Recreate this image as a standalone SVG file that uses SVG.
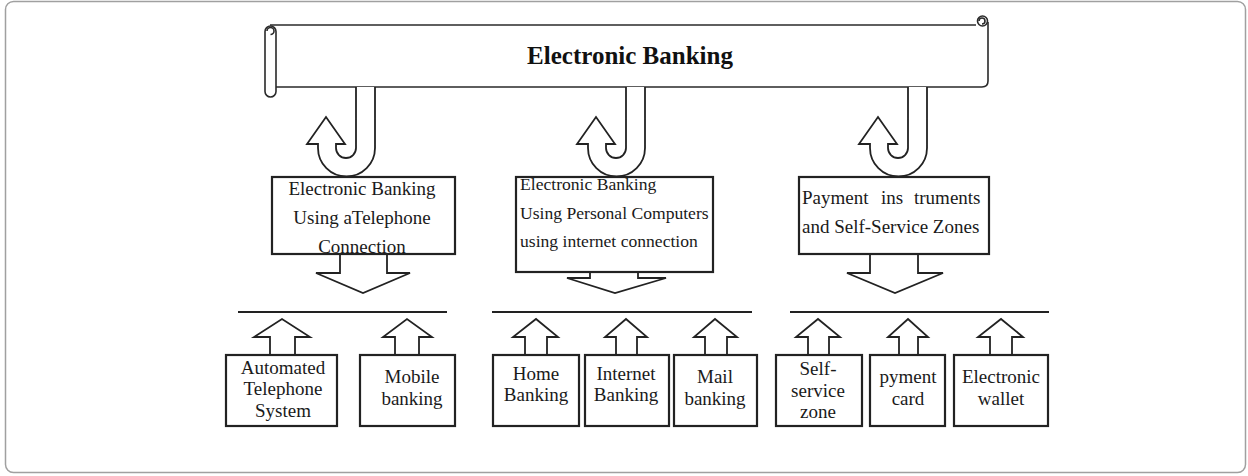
<svg xmlns="http://www.w3.org/2000/svg" width="1248" height="476" viewBox="0 0 1248 476">
<style>
.frame{fill:#fff;stroke:#a0a0a0;stroke-width:1.5}
.ln{fill:none;stroke:#2a2a2a;stroke-width:1.6;stroke-linejoin:round}
.box{fill:#fff;stroke:#222;stroke-width:2.2}
.arr{fill:#fff;stroke:#222;stroke-width:1.8;stroke-linejoin:miter}
.t{font-family:"Liberation Serif",serif;fill:#1a1a1a}
.t19{font-size:19px}
.t17{font-size:17.6px}
.title{font-family:"Liberation Serif",serif;font-size:25px;font-weight:bold;fill:#111}
.bar{stroke:#222;stroke-width:2}
</style>
<rect class="frame" x="5.5" y="1.5" width="1240" height="471" rx="8"/>

<g id="banner">
<path class="ln" d="M270 25 L976 25"/>
<path class="ln" d="M276 87 L982 87 Q988 87 988 81 L988 22"/>
<circle class="ln" cx="982.5" cy="21" r="5"/>
<path class="ln" d="M979 21 a3 3 0 1 1 3 3"/>
<rect class="ln" x="265" y="26" width="11" height="71" rx="5.5"/>
<path class="ln" d="M267 31 a3.5 3.5 0 1 1 3.5 3.5"/>
<text class="title" x="630" y="64" text-anchor="middle">Electronic Banking</text>
</g>

<g id="connectors">
<path class="arr" d="M375 87 L375 148 A28.5 28.5 0 0 1 318 148 L318 144 L307 144 L326 117 L345 144 L336 144 L336 148 A10 10 0 0 0 356 148 L356 87"/>
<path class="arr" d="M645 87 L645 148 A28.5 28.5 0 0 1 588 148 L588 144 L577 144 L596 117 L615 144 L606 144 L606 148 A10 10 0 0 0 626 148 L626 87"/>
<path class="arr" d="M927 87 L927 148 A28.5 28.5 0 0 1 870 148 L870 144 L859 144 L878 117 L897 144 L888 144 L888 148 A10 10 0 0 0 908 148 L908 87"/>

<path class="arr" d="M340 254 L340 273 L316 273 L363 293 L410 273 L387 273 L387 254"/>
<path class="arr" d="M590 272 L590 278 L567 278 L615 293 L666 278 L638 278 L638 272"/>
<path class="arr" d="M870 254 L870 273 L847 273 L895 293 L943 273 L918 273 L918 254"/>

<line class="bar" x1="238" y1="312" x2="447" y2="312"/>
<line class="bar" x1="492" y1="312" x2="752" y2="312"/>
<line class="bar" x1="790" y1="312" x2="1049" y2="312"/>

<path class="arr" d="M270 356 L270 337 L254 337 L282 319 L310 337 L295 337 L295 356"/>
<path class="arr" d="M395 356 L395 337 L383 337 L407 319 L432 337 L419 337 L419 356"/>
<path class="arr" d="M525 356 L525 337 L513 337 L536 319 L558 337 L547 337 L547 356"/>
<path class="arr" d="M616 356 L616 337 L605 337 L626 319 L647 337 L637 337 L637 356"/>
<path class="arr" d="M705 356 L705 337 L694 337 L715 319 L737 337 L727 337 L727 356"/>
<path class="arr" d="M808 356 L808 337 L796 337 L818 319 L840 337 L829 337 L829 356"/>
<path class="arr" d="M899 356 L899 337 L888 337 L908 319 L928 337 L918 337 L918 356"/>
<path class="arr" d="M990 356 L990 337 L978 337 L1001 319 L1023 337 L1012 337 L1012 356"/>
</g>

<g id="box-telephone">
<rect class="box" x="272" y="177" width="183" height="77"/>
<text class="t t19" text-anchor="middle"><tspan x="362" y="195">Electronic Banking</tspan><tspan x="362" y="224">Using aTelephone</tspan><tspan x="362" y="253">Connection</tspan></text>
</g>
<g id="box-pc">
<rect class="box" x="516" y="177" width="197" height="95"/>
<text class="t t17"><tspan x="520" y="190">Electronic Banking</tspan><tspan x="520" y="219">Using Personal Computers</tspan><tspan x="520" y="247">using internet connection</tspan></text>
</g>
<g id="box-payment">
<rect class="box" x="799" y="177" width="190" height="77"/>
<text class="t t19"><tspan x="802" y="204">Payment</tspan><tspan x="881" y="204">ins</tspan><tspan x="914" y="204">truments</tspan><tspan x="802" y="233">and Self-Service Zones</tspan></text>
</g>

<g id="child-ats">
<rect class="box" x="226" y="355" width="111" height="71"/>
<text class="t t19" text-anchor="middle"><tspan x="283" y="374">Automated</tspan><tspan x="283" y="395">Telephone</tspan><tspan x="283" y="417">System</tspan></text>
</g>
<g id="child-mobile">
<rect class="box" x="360" y="355" width="95" height="71"/>
<text class="t t19" text-anchor="middle"><tspan x="412" y="383">Mobile</tspan><tspan x="412" y="405">banking</tspan></text>
</g>
<g id="child-home">
<rect class="box" x="493" y="355" width="86" height="71"/>
<text class="t t19" text-anchor="middle"><tspan x="536" y="380">Home</tspan><tspan x="536" y="401">Banking</tspan></text>
</g>
<g id="child-internet">
<rect class="box" x="585" y="355" width="84" height="71"/>
<text class="t t19" text-anchor="middle"><tspan x="626" y="380">Internet</tspan><tspan x="626" y="401">Banking</tspan></text>
</g>
<g id="child-mail">
<rect class="box" x="674" y="355" width="83" height="71"/>
<text class="t t19" text-anchor="middle"><tspan x="715" y="383">Mail</tspan><tspan x="715" y="405">banking</tspan></text>
</g>
<g id="child-selfservice">
<rect class="box" x="776" y="355" width="86" height="71"/>
<text class="t t19" text-anchor="middle"><tspan x="818" y="375">Self-</tspan><tspan x="818" y="397">service</tspan><tspan x="818" y="418">zone</tspan></text>
</g>
<g id="child-card">
<rect class="box" x="870" y="355" width="75" height="71"/>
<text class="t t19" text-anchor="middle"><tspan x="908" y="383">pyment</tspan><tspan x="908" y="405">card</tspan></text>
</g>
<g id="child-wallet">
<rect class="box" x="954" y="355" width="94" height="71"/>
<text class="t t19" text-anchor="middle"><tspan x="1001" y="383">Electronic</tspan><tspan x="1001" y="405">wallet</tspan></text>
</g>
</svg>
